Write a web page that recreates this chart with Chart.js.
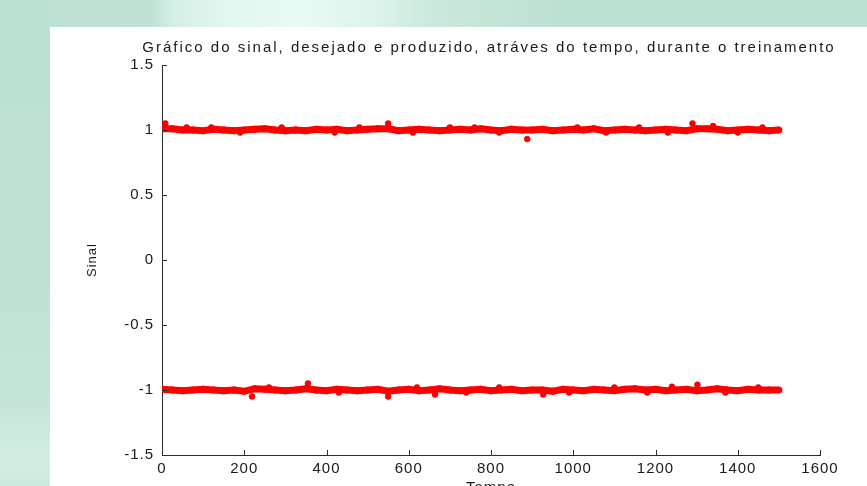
<!DOCTYPE html>
<html>
<head>
<meta charset="utf-8">
<script src="https://cdn.jsdelivr.net/npm/chart.js@4"></script>
<style>
  html, body { margin: 0; padding: 0; width: 867px; height: 486px; overflow: hidden; }
  body {
    background: #bde1d3;
    position: relative;
  }
  #topStrip {
    position: absolute; left: 0; top: 0; width: 867px; height: 27px;
    background: linear-gradient(to right, #bde1d3 0px, #bfe2d4 150px, #d6efe5 175px, #e2f7ef 230px, #e8fbf4 300px, #dcf2ea 380px, #cbe9dc 430px, #c4e5d7 500px, #bde1d3 560px);
  }
  #leftStrip {
    position: absolute; left: 0; top: 27px; width: 50px; height: 459px;
    background: linear-gradient(to bottom, #bde1d3 0px, #bfe2d4 250px, #c6e6d9 380px, #d3ede2 430px, #c9e7da 486px);
  }
  #wrap {
    position: absolute; left: 50px; top: 27px; width: 817px; height: 480px;
    background: #ffffff;
  }
</style>
</head>
<body>
<div id="topStrip"></div>
<div id="leftStrip"></div>
<div id="wrap"><canvas id="sinalChart"></canvas></div>
<script>
document.addEventListener('DOMContentLoaded', init, false);

// tempo (amostras) de cada faixa
const tempo = [0,25,50,75,100,125,150,175,200,225,
    250,275,300,325,350,375,400,425,450,475,
    500,525,550,575,600,625,650,675,700,725,
    750,775,800,825,850,875,900,925,950,975,
    1000,1025,1050,1075,1100,1125,1150,1175,1200,1225,
    1250,1275,1300,1325,1350,1375,1400,1425,1450,1475,
    1500];

// sinal produzido na faixa +1
const sinalAlto = [1.01,1.01,1.00,1.00,0.995,1.005,1.00,0.995,1.00,1.005,
    1.01,1.00,0.995,1.00,0.995,1.005,1.00,1.005,0.995,1.00,
    1.005,1.01,1.01,0.995,1.00,1.005,1.00,0.995,1.00,1.005,
    1.00,1.01,1.00,0.995,1.005,1.00,1.00,1.005,0.995,1.00,
    1.005,1.00,1.01,0.995,1.00,1.005,1.00,0.995,1.00,1.005,
    1.00,0.995,1.01,1.01,1.005,0.995,1.00,1.005,1.00,0.995,
    1.00];

// sinal produzido na faixa -1
const sinalBaixo = [-0.995,-1.00,-1.005,-1.00,-0.995,-1.00,-1.005,-1.00,-1.01,-0.99,
    -0.995,-1.00,-1.005,-1.00,-0.99,-1.00,-1.005,-0.995,-1.00,-1.005,
    -1.00,-0.995,-1.01,-1.00,-0.995,-1.005,-1.00,-0.99,-1.00,-1.005,
    -1.00,-0.995,-1.005,-1.00,-0.995,-1.005,-1.00,-1.00,-1.01,-0.995,
    -1.00,-1.005,-0.995,-1.00,-1.005,-0.995,-0.99,-1.00,-0.995,-1.005,
    -1.00,-0.995,-1.005,-1.00,-0.99,-1.00,-1.005,-0.995,-1.00,-1.00,
    -1.00];

// pequenos picos ao longo das faixas
const tempoPico = [8, 60, 120, 190, 291, 420, 480, 550, 610, 700, 760, 820, 888, 1010, 1080, 1160, 1230, 1290, 1340, 1400, 1460,
    219, 260, 355, 430, 550, 620, 664, 740, 820, 927, 990, 1100, 1180, 1240, 1302, 1370, 1450];
const sinalPico = [1.05, 1.02, 1.02, 0.98, 1.02, 0.98, 1.02, 1.05, 0.98, 1.02, 1.02, 0.98, 0.93, 1.02, 0.98, 1.02, 0.98, 1.05, 1.03, 0.98, 1.02,
    -1.05, -0.98, -0.95, -1.02, -1.05, -0.98, -1.035, -1.02, -0.98, -1.035, -1.02, -0.98, -1.02, -0.975, -0.96, -1.02, -0.98];

// sinal desejado
const tempoDesejado = [0, 1500];
const desejadoAlto = [1, 1];
const desejadoBaixo = [-1, -1];

const xTicks = [0, 200, 400, 600, 800, 1000, 1200, 1400, 1600];
const yTicks = [-1.5, -1, -0.5, 0, 0.5, 1, 1.5];
const titulo = 'Gráfico do sinal, desejado e produzido, atráves do tempo, durante o treinamento';

const fonte = '"Liberation Sans", Arial, sans-serif';

function pares(xs, ys){
    return xs.map((x, i) => ({x: x, y: ys[i]}));
}

// ticks para dentro e titulo centrado nos eixos, estilo matlab
const estiloMatlab = {
    id: 'estiloMatlab',
    beforeDraw(chart){
        chart.ctx.letterSpacing = '1px';
    },
    afterDraw(chart){
        const ctx = chart.ctx;
        const xs = chart.scales.x;
        const ys = chart.scales.y;
        const area = chart.chartArea;
        ctx.save();
        ctx.strokeStyle = '#2b2b2b';
        ctx.lineWidth = 1;
        ctx.beginPath();
        xTicks.forEach(v => {
            const px = Math.round(xs.getPixelForValue(v)) + 0.5;
            ctx.moveTo(px, area.bottom);
            ctx.lineTo(px, area.bottom - 5);
        });
        yTicks.forEach(v => {
            const py = Math.round(ys.getPixelForValue(v)) + 0.5;
            ctx.moveTo(area.left, py);
            ctx.lineTo(area.left + 5, py);
        });
        ctx.stroke();

        ctx.letterSpacing = '2px';
        ctx.font = '15px ' + fonte;
        ctx.fillStyle = '#1a1a1a';
        ctx.textAlign = 'center';
        ctx.textBaseline = 'middle';
        ctx.fillText(titulo, (area.left + area.right) / 2 - 2, 21);
        ctx.restore();
    }
};

function init(){
    const ctx = document.getElementById('sinalChart');
    const vermelho = '#ff0000';
    const data = {
        datasets: [
            {
                label: 'desejado +1',
                data: pares(tempoDesejado, desejadoAlto),
                borderColor: '#0000ff',
                borderWidth: 1,
                pointRadius: 0,
                showLine: true,
                order: 3
            },
            {
                label: 'desejado -1',
                data: pares(tempoDesejado, desejadoBaixo),
                borderColor: '#0000ff',
                borderWidth: 1,
                pointRadius: 0,
                showLine: true,
                order: 3
            },
            {
                label: 'produzido +1',
                data: pares(tempo, sinalAlto),
                borderColor: vermelho,
                backgroundColor: vermelho,
                borderWidth: 7,
                pointRadius: 3.5,
                pointBorderWidth: 0,
                showLine: true,
                order: 1
            },
            {
                label: 'produzido -1',
                data: pares(tempo, sinalBaixo),
                borderColor: vermelho,
                backgroundColor: vermelho,
                borderWidth: 7,
                pointRadius: 3.5,
                pointBorderWidth: 0,
                showLine: true,
                order: 1
            },
            {
                label: 'picos',
                data: pares(tempoPico, sinalPico),
                borderColor: '#d00000',
                backgroundColor: vermelho,
                pointRadius: 3,
                pointBorderWidth: 0.5,
                showLine: false,
                order: 0
            }
        ]
    };
    const config = {
        type: 'scatter',
        data: data,
        options: {
            responsive: false,
            animation: false,
            events: [],
            layout: { padding: { left: 0, top: 38, right: 47, bottom: 0 } },
            plugins: {
                legend: { display: false },
                tooltip: { enabled: false },
                title: { display: false }
            },
            scales: {
                x: {
                    type: 'linear',
                    min: 0,
                    max: 1600,
                    afterBuildTicks: s => { s.ticks = xTicks.map(v => ({value: v})); },
                    grid: { display: false, drawTicks: false },
                    border: { display: true, color: '#2b2b2b', width: 1 },
                    ticks: {
                        color: '#1a1a1a',
                        font: { family: fonte, size: 15 },
                        padding: 5,
                        maxRotation: 0,
                        callback: v => String(v)
                    },
                    title: {
                        display: true,
                        text: 'Tempo',
                        color: '#1a1a1a',
                        font: { family: fonte, size: 15 },
                        padding: { top: 0, bottom: 10 }
                    },
                    afterFit: s => { s.height = 52; }
                },
                y: {
                    type: 'linear',
                    min: -1.5,
                    max: 1.5,
                    afterBuildTicks: s => { s.ticks = yTicks.map(v => ({value: v})); },
                    grid: { display: false, drawTicks: false },
                    border: { display: true, color: '#2b2b2b', width: 1 },
                    ticks: {
                        color: '#1a1a1a',
                        font: { family: fonte, size: 15 },
                        padding: 8,
                        callback: v => String(v)
                    },
                    title: {
                        display: true,
                        text: 'Sinal',
                        color: '#1a1a1a',
                        font: { family: fonte, size: 13 },
                        padding: { top: 35, bottom: 0 }
                    },
                    afterFit: s => { s.width = 112; }
                }
            }
        },
        plugins: [estiloMatlab]
    };
    ctx.width = 817;
    ctx.height = 480;
    new Chart(ctx, config);
}
</script>
</body>
</html>
